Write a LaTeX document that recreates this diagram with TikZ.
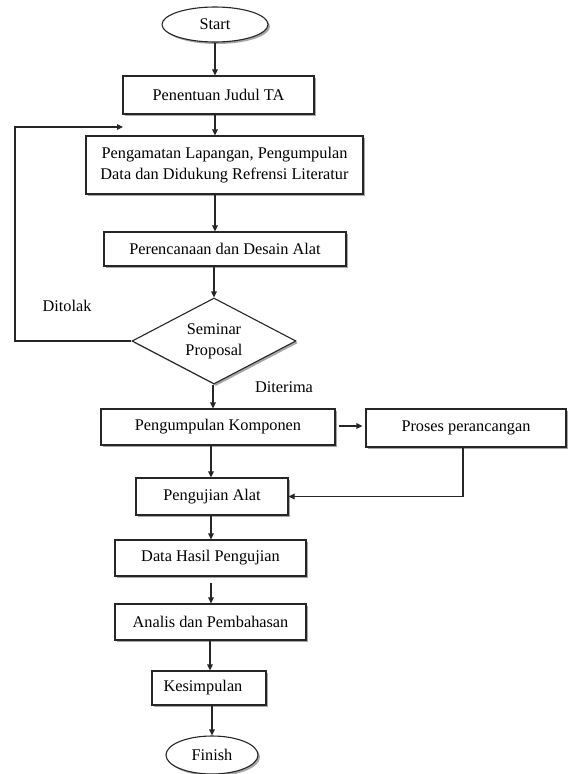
\documentclass[tikz,border=0pt]{standalone}
\usepackage{fontspec}
\setmainfont{Liberation Serif}
\usetikzlibrary{shapes.geometric,arrows.meta,shadows}
\begin{document}
\begin{tikzpicture}[x=1pt,y=-1pt,
  every node/.style={font=\fontsize{16.3}{21}\selectfont, inner sep=0pt},
  shad/.style={drop shadow={shadow xshift=2pt,shadow yshift=-2pt,fill=black!35,opacity=1}},
  procbox/.style={rectangle, draw=black!85, line width=1.1pt, fill=white, shad, align=center},
  term/.style={ellipse, draw=black!85, line width=1.1pt, fill=white, shad},
  decide/.style={diamond, draw=black!85, line width=1.1pt, fill=white, shad, align=center, aspect=1.9},
  arr/.style={draw=black!85, line width=1.1pt, -{Triangle[length=6pt,width=5.5pt]}},
  lbl/.style={font=\fontsize{16.3}{21}\selectfont}
]
\useasboundingbox (0,0) rectangle (568,774);
\fill[white] (0,0) rectangle (568,774);

\node[term, minimum width=106pt, minimum height=35pt] (start) at (215,24.5) {Start};
\node[procbox, minimum width=191pt, minimum height=38pt] (judul) at (218.5,95) {Penentuan Judul TA};
\node[procbox, minimum width=277pt, minimum height=58pt] (amat) at (224.5,165) {Pengamatan Lapangan, Pengumpulan\\Data dan Didukung Refrensi Literatur};
\node[procbox, minimum width=242pt, minimum height=34pt] (desain) at (225,249) {Perencanaan dan Desain Alat};
\node[decide, minimum width=164pt, minimum height=86pt] (sem) at (214,341) {Seminar\\Proposal};
\node[procbox, minimum width=234pt, minimum height=36pt] (komp) at (218,427) {Pengumpulan Komponen};
\node[procbox, minimum width=200pt, minimum height=38pt] (proses) at (466,428) {Proses perancangan};
\node[procbox, minimum width=152pt, minimum height=37pt] (uji) at (212,496.5) {Pengujian Alat};
\node[procbox, minimum width=191pt, minimum height=36pt] (hasil) at (210.5,558) {Data Hasil Pengujian};
\node[procbox, minimum width=191pt, minimum height=36pt] (analis) at (210.5,622) {Analis dan Pembahasan};
\node[procbox, minimum width=114pt, minimum height=34pt] (kes) at (209,688) {\hspace*{-12pt}Kesimpulan};
\node[term, minimum width=92pt, minimum height=38pt] (finish) at (212,755) {Finish};

\node[lbl] (ditolak) at (67,306) {Ditolak};
\node[lbl] (diterima) at (284,387) {Diterima};

\coordinate (xa) at (215,0);
\coordinate (xb) at (213,0);
\coordinate (xc) at (211,0);
\coordinate (loopL) at (15,341);
\coordinate (loopT) at (15,127);
\coordinate (loopE) at (123,127);
\coordinate (psx) at (463,0);

\draw[arr] (start.south) -- (start.south |- judul.north);
\draw[arr] (xa |- judul.south) -- (xa |- amat.north);
\draw[arr] (xa |- amat.south) -- (xa |- desain.north);
\draw[arr] (sem.north |- desain.south) -- (sem.north);
\draw[arr] (xb |- sem.south) -- (xb |- komp.north);
\draw[arr, shorten <=3pt, shorten >=3pt] (komp.east |- 0,426) -- (proses.west |- 0,426);
\draw[arr] (xc |- komp.south) -- (xc |- uji.north);
\draw[arr] (psx |- proses.south) -- (psx |- uji.east) -- (uji.east);
\draw[arr] (xc |- uji.south) -- (xc |- hasil.north);
\draw[arr, shorten <=6pt] (xc |- hasil.south) -- (xc |- analis.north);
\draw[arr] (210,0 |- analis.south) -- (210,0 |- kes.north);
\draw[arr] (finish.north |- kes.south) -- (finish.north);
\draw[arr] (sem.west) -- (loopL) -- (loopT) -- (loopE);
\end{tikzpicture}
\end{document}
